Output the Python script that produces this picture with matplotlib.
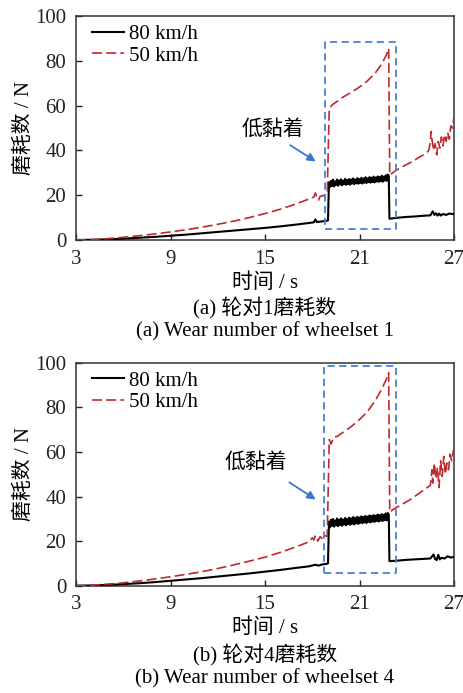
import numpy as np
import matplotlib
matplotlib.use("Agg")
import matplotlib.pyplot as plt

plt.rcParams['font.family'] = ['Liberation Serif', 'Noto Sans CJK SC']
plt.rcParams['axes.unicode_minus'] = False

# ---------------- data ----------------
# panel (a) wheelset 1
a80_t1 = [3, 4, 5, 6, 7, 8, 9, 10, 11, 12, 13, 14, 15, 16, 17, 17.8, 18.1, 18.2, 18.3, 18.5, 18.8, 19.0]
a80_v1 = [0, 0.1, 0.3, 0.6, 1.0, 1.4, 1.9, 2.4, 3.0, 3.6, 4.2, 4.8, 5.4, 6.1, 6.9, 7.6, 7.9, 9.2, 8.0, 8.2, 8.5, 8.7]
a80_band = [25.8, 23.6, 26.4, 24.1, 26.9, 23.9, 26.2, 24.5, 27.0, 24.2, 26.6, 24.8, 27.1, 24.4, 26.5, 24.9, 27.3, 24.6, 26.8, 25.0,
            27.2, 24.7, 27.0, 25.2, 27.5, 24.9, 26.9, 25.3, 27.6, 25.1, 27.2, 25.5, 27.8, 25.2, 27.4, 25.6, 28.0, 25.4, 27.5, 25.8,
            28.1, 25.6, 27.8, 25.9, 28.3, 25.7, 27.9, 26.1, 28.4, 25.9, 28.1, 26.3, 28.7, 26.0, 28.3, 26.5, 28.9, 26.4, 29.2, 28.6]
a80_t3 = [22.9, 23.5, 24, 24.5, 25, 25.5, 25.65, 25.75, 25.85, 25.95, 26.05, 26.15, 26.3, 26.5, 26.7, 27]
a80_v3 = [9.5, 10.0, 10.3, 10.5, 10.8, 11.0, 12.8, 11.2, 12.0, 10.9, 11.8, 10.9, 11.6, 11.2, 11.8, 11.5]

a50_t = [3, 4, 5, 6, 7, 8, 9, 10, 11, 12, 13, 14, 15, 16, 17, 17.8, 18.1, 18.2, 18.3, 18.4, 18.5, 18.7, 18.95,
         19.08, 19.3, 19.6, 20, 20.5, 21, 21.5, 22, 22.4, 22.7, 22.85,
         22.92, 23.3, 23.8, 24.3, 24.8, 25.2, 25.4, 25.5, 25.55, 25.6, 25.7, 25.8, 25.9, 26.0, 26.1, 26.2,
         26.3, 26.4, 26.5, 26.6, 26.7, 26.8, 26.9, 27]
a50_v = [0, 0.2, 0.6, 1.2, 1.9, 2.7, 3.6, 4.6, 5.7, 7.0, 8.4, 10.0, 11.8, 13.8, 16.2, 18.3, 19.2, 21.0, 19.0, 17.8, 19.5, 19.8, 20.5,
         58.8, 60.5, 62, 64, 66, 68.3, 71, 74.5, 78.5, 82.5, 85.5,
         29, 31, 33, 34.8, 37, 38.5, 40, 44, 48.5, 45, 40, 43, 38, 44, 41, 46,
         42, 47, 44, 48, 45, 51, 50, 55]

# panel (b) wheelset 4
b80_t1 = [3, 4, 5, 6, 7, 8, 9, 10, 11, 12, 13, 14, 15, 16, 17, 17.8, 18.2, 18.4, 18.6, 18.9, 19.0]
b80_v1 = [0, 0.1, 0.35, 0.7, 1.1, 1.6, 2.2, 2.8, 3.4, 4.1, 4.8, 5.5, 6.3, 7.1, 8.0, 8.7, 9.4, 9.0, 9.5, 9.8, 10.0]
b80_band = [28.8, 26.2, 29.6, 26.8, 29.9, 26.5, 29.3, 27.0, 30.1, 26.7, 29.6, 27.2, 30.2, 26.9, 29.7, 27.4, 30.4, 27.1, 29.9, 27.6,
            30.5, 27.3, 30.2, 27.8, 30.8, 27.5, 30.3, 28.0, 30.9, 27.7, 30.6, 28.2, 31.1, 28.0, 30.8, 28.4, 31.3, 28.1, 31.0, 28.6,
            31.5, 28.4, 31.2, 28.8, 31.7, 28.6, 31.4, 29.0, 31.9, 28.8, 31.6, 29.2, 32.1, 29.0, 31.8, 29.4, 32.4, 29.3, 32.6, 32.0]
b80_t3 = [22.9, 23.5, 24, 24.5, 25, 25.5, 25.7, 25.8, 25.9, 26.0, 26.1, 26.2, 26.4, 26.6, 26.8, 27]
b80_v3 = [11.0, 11.3, 11.6, 11.8, 12.0, 12.2, 14.0, 12.0, 11.5, 13.8, 11.8, 12.5, 12.2, 13.2, 12.6, 13.0]

b50_t = [3, 4, 5, 6, 7, 8, 9, 10, 11, 12, 13, 14, 15, 16, 17, 17.8, 18.0, 18.1, 18.2, 18.35, 18.5, 18.65, 18.8, 18.95,
         19.08, 19.2, 19.35, 19.6, 20, 20.5, 21, 21.5, 22, 22.4, 22.7, 22.85,
         22.92, 23.2, 23.7, 24.2, 24.7, 25.2, 25.5, 25.6, 25.65, 25.75, 25.85, 25.95, 26.05, 26.15, 26.25,
         26.35, 26.45, 26.55, 26.65, 26.75, 26.85, 27]
b50_v = [0, 0.25, 0.7, 1.3, 2.1, 3.0, 4.0, 5.1, 6.3, 7.7, 9.3, 11.0, 12.8, 15.0, 17.5, 19.7, 21.5, 20.5, 22.5, 20.0, 22.0, 21.0, 22.5, 22.0,
         65.5, 63.5, 66.5, 67, 69, 71.5, 74.5, 78, 83, 88, 92.5, 95.5,
         33, 34.5, 36.5, 38.5, 41, 43.5, 45, 52, 46, 55, 48, 53, 44, 56, 49,
         58, 50, 55, 52, 59, 56, 62]

band_t0, band_t1 = 19.06, 22.86
boxes = {'a': (18.8, 23.3, 5.0, 88.3), 'b': (18.75, 23.3, 5.5, 98.7)}
notes = {'a': ((15.5, 49.5), (16.45, 43.0), (18.37, 34.4)),
         'b': ((14.4, 55.5), (16.4, 47.0), (18.37, 38.0))}

xticks = [3, 9, 15, 21, 27]
yticks = [0, 20, 40, 60, 80, 100]
labels80 = "80 km/h"
labels50 = "50 km/h"
captions = {'a': ("(a) 轮对1磨耗数", "(a) Wear number of wheelset 1"),
            'b': ("(b) 轮对4磨耗数", "(b) Wear number of wheelset 4")}

RED = '#c0282d'
BLUE = '#4a80d6'
W, H = 463, 693
FS = 15

fig = plt.figure(figsize=(W / 100, H / 100), dpi=100)


def build80(t1, v1, band, t3, v3):
    tb = np.linspace(band_t0, band_t1, len(band))
    t = np.concatenate([t1, tb, t3])
    v = np.concatenate([v1, band, v3])
    return t, v


panels = [
    ('a', 240, 16, build80(a80_t1, a80_v1, a80_band, a80_t3, a80_v3), (a50_t, a50_v), 283, 308, 332),
    ('b', 585.7, 362.7, build80(b80_t1, b80_v1, b80_band, b80_t3, b80_v3), (b50_t, b50_v), 628, 655, 679),
]

for key, ybot, ytop, d80, d50, yxl, yc1, yc2 in panels:
    ax = fig.add_axes([76 / W, 1 - ybot / H, 378 / W, (ybot - ytop) / H])
    ax.plot(d80[0], d80[1], color='black', lw=1.5, label=labels80, zorder=3)
    ax.plot(d50[0], d50[1], color=RED, lw=1.2, ls=(0, (6, 2.5)), label=labels50, zorder=4)
    x0, x1, y0, y1 = boxes[key]
    ax.plot([x0, x1, x1, x0, x0], [y0, y0, y1, y1, y0], color=BLUE, lw=1.3, ls=(0, (4, 2.5)), zorder=5)
    (tx, ty), (ax0, ay0), (ax1, ay1) = notes[key]
    ax.text(tx, ty, "低黏着", fontsize=FS, ha='center', va='center', family=['Noto Sans CJK SC'])
    ax.annotate("", xy=(ax1, ay1), xytext=(ax0, ay0),
                arrowprops=dict(arrowstyle='-|>', color='#3a78d0', lw=1.3, mutation_scale=12))
    ax.set_xlim(3, 27)
    ax.set_ylim(0, 100)
    ax.set_xticks(xticks)
    ax.set_yticks(yticks)
    ax.tick_params(direction='in', labelsize=FS, length=4, width=1, colors='#222222')
    ax.tick_params(axis='y', pad=7)
    ax.tick_params(axis='x', pad=7)
    for s in ax.spines.values():
        s.set_color('#333333')
        s.set_linewidth(1.1)
    ax.set_ylabel("磨耗数 / N", fontsize=FS, labelpad=2)
    ax.yaxis.set_label_coords(-0.11, 0.5)
    ax.legend(loc='upper left', bbox_to_anchor=(0.021, 1.0), frameon=False, fontsize=FS, handlelength=1.5,
              handletextpad=0.25, borderaxespad=0.0, labelspacing=0.1)
    cx = 0.5 * (76 + 454) / W
    fig.text(cx, 1 - yxl / H, "时间 / s", fontsize=FS, ha='center', va='center')
    fig.text(cx, 1 - yc1 / H, captions[key][0], fontsize=FS, ha='center', va='center')
    fig.text(cx, 1 - yc2 / H, captions[key][1], fontsize=FS, ha='center', va='center')

fig.savefig("out.png", dpi=100)
